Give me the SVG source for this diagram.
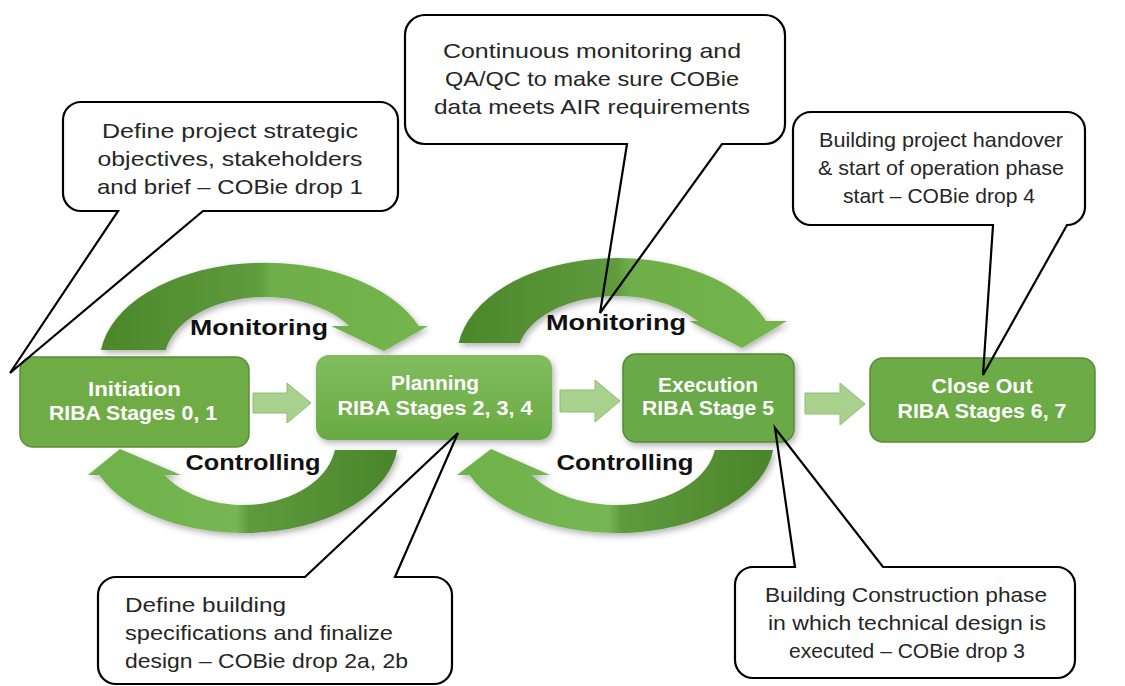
<svg xmlns="http://www.w3.org/2000/svg" width="1125" height="686" viewBox="0 0 1125 686">
  <defs>
    <linearGradient id="arcTop" x1="0" y1="0" x2="1" y2="0">
      <stop offset="0" stop-color="#4b8729"/>
      <stop offset="0.48" stop-color="#5f9b3e"/>
      <stop offset="0.52" stop-color="#6eae49"/>
      <stop offset="1" stop-color="#74b54d"/>
    </linearGradient>
    <linearGradient id="arcBottom" x1="0" y1="0" x2="1" y2="0">
      <stop offset="0" stop-color="#6db249"/>
      <stop offset="0.48" stop-color="#76b654"/>
      <stop offset="0.52" stop-color="#5f9a3e"/>
      <stop offset="1" stop-color="#4a8529"/>
    </linearGradient>
    <linearGradient id="nodeLift" x1="0" y1="0" x2="0" y2="1">
      <stop offset="0" stop-color="#81bd5f"/>
      <stop offset="1" stop-color="#69aa42"/>
    </linearGradient>
    <filter id="softShadow" x="-10%" y="-10%" width="125%" height="130%">
      <feDropShadow dx="2" dy="3" stdDeviation="3" flood-color="#000" flood-opacity="0.3"/>
    </filter>
    <style>
      .arc { filter: url(#softShadow); }
      .node { stroke-width: 1.5; }
      .nodeText { font-family: "Liberation Sans", Arial, sans-serif; font-weight: bold; font-size: 20px; fill: #ffffff; text-anchor: middle; }
      .loopText { font-family: "Liberation Sans", Arial, sans-serif; font-weight: bold; font-size: 22px; fill: #111111; text-anchor: middle; }
      .step { fill: #a9d18e; stroke: #8dbd6f; stroke-width: 1; }
      .bubbleFill { fill: #ffffff; }
      .bubbleLine { fill: none; stroke: #000000; stroke-width: 2.2; stroke-linejoin: miter; }
      .note { font-family: "Liberation Sans", Arial, sans-serif; font-size: 21px; fill: #262626; }
      .mid { text-anchor: middle; }
    </style>
  </defs>

  <rect width="1125" height="686" fill="#ffffff"/>

  <!-- connectors: monitoring / controlling loops and forward steps -->
  <g id="connectors">
    <path class="arc" fill="url(#arcTop)" d="M101,350 A165,99 0 0 1 418.7,326 L428,326 L384,351 L331,326 L349.1,326 A101,65 0 0 0 165.7,350 Z"/>
    <path class="arc" fill="url(#arcTop)" d="M458.6,343 A160,99 0 0 1 766,321 L787,321 L742,348 L689,321 L697.7,321 A100,61 0 0 0 519.7,343 Z"/>
    <path class="arc" fill="url(#arcBottom)" d="M397.1,450 A155,93 0 0 1 99.4,475 L88,475 L120,449 L181,475 L164.6,475 A93,65 0 0 0 334.9,450 Z"/>
    <path class="arc" fill="url(#arcBottom)" d="M773.1,450 A158,93 0 0 1 469.6,475 L457,475 L491,449 L550,475 L531.7,475 A100,65 0 0 0 714.8,450 Z"/>

    <path class="step" d="M253,393 H287 V383 L311,403 L287,423 V413 H253 Z"/>
    <path class="step" d="M560,390 H595 V380 L620,401 L595,422 V412 H560 Z"/>
    <path class="step" d="M805,393 H840 V383 L865,404 L840,425 V414 H805 Z"/>

    <text class="loopText" x="259" y="335" textLength="138" lengthAdjust="spacingAndGlyphs">Monitoring</text>
    <text class="loopText" x="616" y="330" textLength="140" lengthAdjust="spacingAndGlyphs">Monitoring</text>
    <text class="loopText" x="253" y="470" textLength="135" lengthAdjust="spacingAndGlyphs">Controlling</text>
    <text class="loopText" x="625" y="470" textLength="137" lengthAdjust="spacingAndGlyphs">Controlling</text>
  </g>

  <!-- phase nodes -->
  <g id="initiation">
    <rect class="node" x="20" y="357" width="229" height="90" rx="13" fill="#6fac46" stroke="#5a8f39"/>
    <text class="nodeText" x="134.5" y="396" textLength="93" lengthAdjust="spacingAndGlyphs">Initiation</text>
    <text class="nodeText" x="133" y="420" textLength="168" lengthAdjust="spacingAndGlyphs">RIBA Stages 0, 1</text>
  </g>
  <g id="planning">
    <rect x="316" y="355" width="236" height="85" rx="13" fill="url(#nodeLift)" filter="url(#softShadow)"/>
    <text class="nodeText" x="435" y="390" textLength="88" lengthAdjust="spacingAndGlyphs">Planning</text>
    <text class="nodeText" x="435" y="415" textLength="195" lengthAdjust="spacingAndGlyphs">RIBA Stages 2, 3, 4</text>
  </g>
  <g id="execution">
    <rect class="node" x="623" y="354" width="171" height="88" rx="13" fill="#6aa946" stroke="#528c35" filter="url(#softShadow)"/>
    <text class="nodeText" x="708" y="392" textLength="100" lengthAdjust="spacingAndGlyphs">Execution</text>
    <text class="nodeText" x="708" y="415" textLength="132" lengthAdjust="spacingAndGlyphs">RIBA Stage 5</text>
  </g>
  <g id="close-out">
    <rect class="node" x="870" y="358" width="225" height="84" rx="13" fill="#6dab46" stroke="#558d38"/>
    <text class="nodeText" x="982" y="393" textLength="101" lengthAdjust="spacingAndGlyphs">Close Out</text>
    <text class="nodeText" x="982" y="418" textLength="169" lengthAdjust="spacingAndGlyphs">RIBA Stages 6, 7</text>
  </g>

  <!-- callout notes -->
  <g id="note-initiation">
    <rect class="bubbleFill" x="63" y="102" width="335" height="109" rx="18"/>
    <path class="bubbleLine" d="M81,102 H380 A18,18 0 0 1 398,120 V193 A18,18 0 0 1 380,211 H203 L10,373 L118,211 H81 A18,18 0 0 1 63,193 V120 A18,18 0 0 1 81,102 Z"/>
    <text class="note mid" x="230" y="138" textLength="256" lengthAdjust="spacingAndGlyphs">Define project strategic</text>
    <text class="note mid" x="230" y="166" textLength="265" lengthAdjust="spacingAndGlyphs">objectives, stakeholders</text>
    <text class="note mid" x="230" y="194" textLength="266" lengthAdjust="spacingAndGlyphs">and brief – COBie drop 1</text>
  </g>
  <g id="note-monitoring">
    <rect class="bubbleFill" x="405" y="15" width="380" height="129" rx="20"/>
    <path class="bubbleLine" d="M425,15 H765 A20,20 0 0 1 785,35 V124 A20,20 0 0 1 765,144 H722 L600,313 L627,144 H425 A20,20 0 0 1 405,124 V35 A20,20 0 0 1 425,15 Z"/>
    <text class="note mid" x="592" y="58" textLength="298" lengthAdjust="spacingAndGlyphs">Continuous monitoring and</text>
    <text class="note mid" x="592" y="86" textLength="294" lengthAdjust="spacingAndGlyphs">QA/QC to make sure COBie</text>
    <text class="note mid" x="592" y="114" textLength="316" lengthAdjust="spacingAndGlyphs">data meets AIR requirements</text>
  </g>
  <g id="note-closeout">
    <rect class="bubbleFill" x="793" y="112" width="292" height="113" rx="18"/>
    <path class="bubbleLine" d="M811,112 H1067 A18,18 0 0 1 1085,130 V207 A18,18 0 0 1 1067,225 L983,375 L993,225 H811 A18,18 0 0 1 793,207 V130 A18,18 0 0 1 811,112 Z"/>
    <text class="note mid" x="941" y="147" textLength="244" lengthAdjust="spacingAndGlyphs">Building project handover</text>
    <text class="note mid" x="941" y="175" textLength="246" lengthAdjust="spacingAndGlyphs">&amp; start of operation phase</text>
    <text class="note mid" x="939" y="203" textLength="192" lengthAdjust="spacingAndGlyphs">start – COBie drop 4</text>
  </g>
  <g id="note-planning">
    <rect class="bubbleFill" x="98" y="577" width="354" height="107" rx="18"/>
    <path class="bubbleLine" d="M116,577 H305 L458,433 L395,577 H434 A18,18 0 0 1 452,595 V666 A18,18 0 0 1 434,684 H116 A18,18 0 0 1 98,666 V595 A18,18 0 0 1 116,577 Z"/>
    <text class="note" x="125" y="612" textLength="161" lengthAdjust="spacingAndGlyphs">Define building</text>
    <text class="note" x="125" y="640" textLength="268" lengthAdjust="spacingAndGlyphs">specifications and finalize</text>
    <text class="note" x="125" y="668" textLength="283" lengthAdjust="spacingAndGlyphs">design – COBie drop 2a, 2b</text>
  </g>
  <g id="note-execution">
    <rect class="bubbleFill" x="735" y="567" width="340" height="111" rx="18"/>
    <path class="bubbleLine" d="M753,567 H795 L775,428 L883,567 H1057 A18,18 0 0 1 1075,585 V660 A18,18 0 0 1 1057,678 H753 A18,18 0 0 1 735,660 V585 A18,18 0 0 1 753,567 Z"/>
    <text class="note mid" x="906" y="602" textLength="282" lengthAdjust="spacingAndGlyphs">Building Construction phase</text>
    <text class="note mid" x="907" y="630" textLength="278" lengthAdjust="spacingAndGlyphs">in which technical design is</text>
    <text class="note mid" x="907" y="658" textLength="236" lengthAdjust="spacingAndGlyphs">executed – COBie drop 3</text>
  </g>
</svg>
